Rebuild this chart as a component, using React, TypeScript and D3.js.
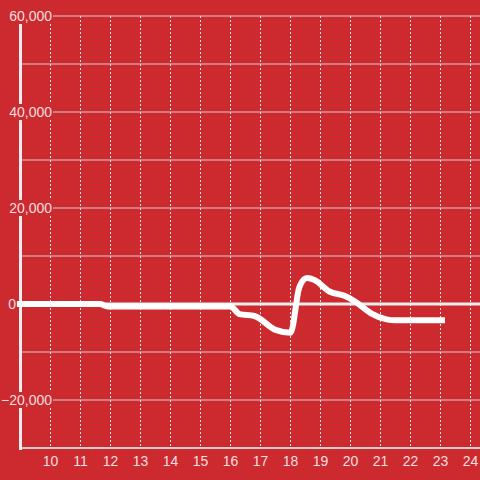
import React from "react";
import * as d3 from "d3";

const hours = [8.88, 11.65, 11.9, 16.0, 16.3, 16.8, 17.5, 18.0, 18.3, 18.55, 18.8, 19.3, 19.8, 20.2, 20.7, 21.2, 21.5, 23.15];
const values = [0, 0, -500, -500, -2100, -2500, -5400, -6000, 3600, 5400, 5000, 2600, 1700, 300, -2000, -3200, -3400, -3400];
const xTicks = [10, 11, 12, 13, 14, 15, 16, 17, 18, 19, 20, 21, 22, 23, 24];
const yGrid = [-30000, -20000, -10000, 0, 10000, 20000, 30000, 40000, 50000, 60000];
const yLabels = [-20000, 0, 20000, 40000, 60000];

const BG = "#cc2a2f";
const TXT = "#f7dfe0";

export default function App() {
  const W = 480, H = 480;
  const x = d3.scaleLinear().domain([9, 24]).range([20.5, 470.5]);
  const y = d3.scaleLinear().domain([-30000, 60000]).range([448, 16]);
  const fmt = d3.format(",");
  const data = hours.map((h, i) => [h, values[i]] as [number, number]);
  const line = d3
    .line<[number, number]>()
    .x((d) => x(d[0]))
    .y((d) => y(d[1]))
    .curve(d3.curveMonotoneX);

  return (
    <svg width={W} height={H} style={{ position: "absolute", left: 0, top: 0 }} fontFamily="Liberation Sans, Arial, sans-serif">
      <rect x={0} y={0} width={W} height={H} fill={BG} />
      {xTicks.map((t) => (
        <line key={"vx" + t} x1={x(t)} x2={x(t)} y1={y(60000)} y2={y(-30000)} stroke="#e6e6e6" strokeWidth={1} strokeDasharray="2,2" />
      ))}
      {yGrid.map((t) => (
        <line key={"hy" + t} x1={20} x2={W} y1={y(t)} y2={y(t)} stroke="#cfcfcf" strokeWidth={t === -30000 ? 2 : 1} />
      ))}
      <line x1={17} x2={W} y1={y(0)} y2={y(0)} stroke="#eeeeee" strokeWidth={3} />
      <line x1={20.5} x2={20.5} y1={24} y2={450} stroke="#eeeeee" strokeWidth={3} />
      <path d={line(data) || ""} fill="none" stroke="#ffffff" strokeWidth={6} strokeLinejoin="round" />
      {yLabels.map((t) =>
        t === 0 ? (
          <text key={"yl" + t} x={16} y={y(t)} dy="0.35em" textAnchor="end" fontSize={14} fill={TXT}>
            {fmt(t)}
          </text>
        ) : (
          <g key={"yl" + t}>
            <rect x={2} y={y(t) - 8} width={51} height={16} fill={BG} />
            <text x={52} y={y(t)} dy="0.35em" textAnchor="end" fontSize={14} fill={TXT}>
              {fmt(t)}
            </text>
          </g>
        )
      )}
      {xTicks.map((t) => (
        <text key={"xl" + t} x={x(t)} y={461} dy="0.35em" textAnchor="middle" fontSize={14} fill={TXT}>
          {t}
        </text>
      ))}
    </svg>
  );
}
